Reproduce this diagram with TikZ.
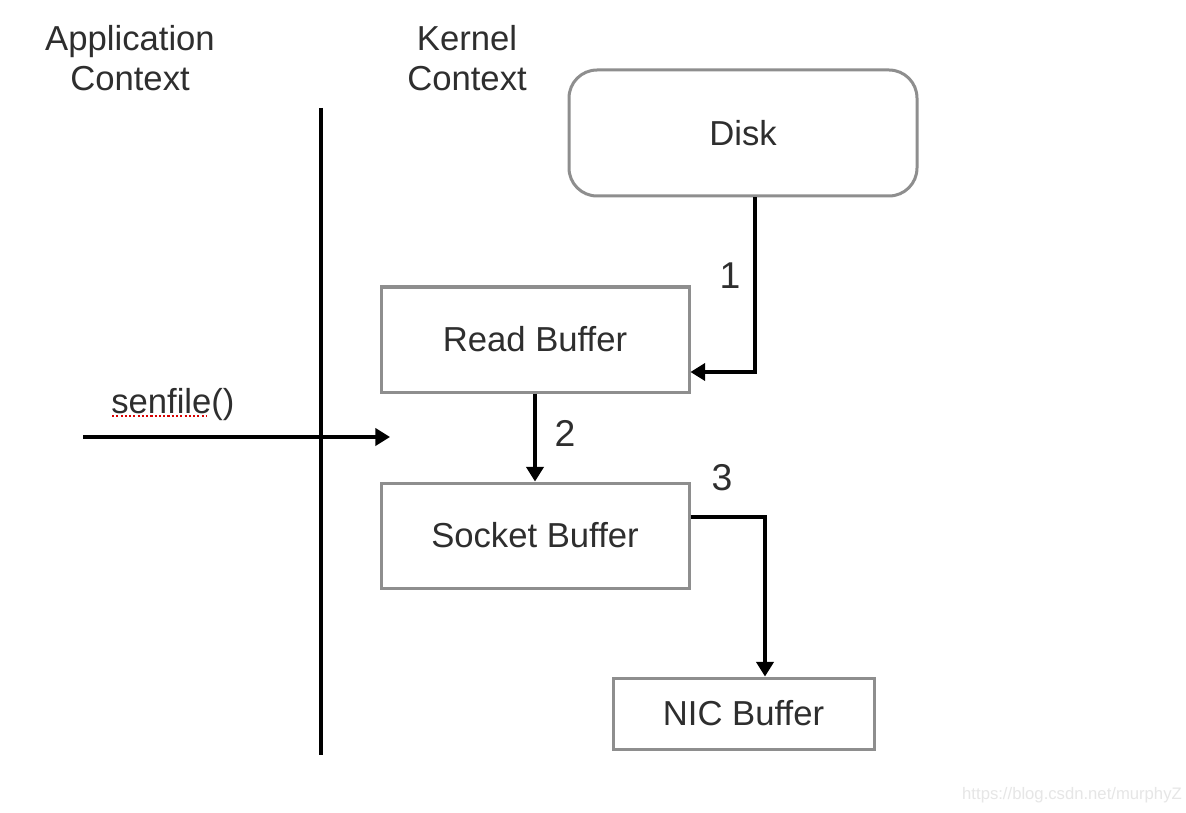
\documentclass[tikz,border=0pt]{standalone}
\usepackage{fontspec}
\setmainfont{Liberation Sans}
\usetikzlibrary{arrows.meta}
\definecolor{txt}{HTML}{2E2E2E}
\definecolor{boxc}{HTML}{8E8E8E}
\definecolor{wm}{HTML}{E6E6E6}
\tikzset{
  lbl/.style={text=txt, font=\fontsize{26}{30}\selectfont, inner sep=0pt},
  num/.style={text=txt, font=\fontsize{28}{32}\selectfont, inner sep=0pt},
  hdr/.style={text=txt, font=\fontsize{26}{30}\selectfont, align=center, inner sep=0pt},
  bufbox/.style={draw=boxc, line width=2.25pt, fill=white, inner sep=0pt, text=txt, font=\fontsize{26}{30}\selectfont},
  arr/.style={draw=black, line width=2.3pt, -{Triangle[length=11pt,width=13pt]}},
}
\begin{document}
\begin{tikzpicture}[x=0.75pt,y=-0.75pt]
\useasboundingbox (0,0) rectangle (1186,813);
\fill[white] (0,0) rectangle (1186,813);
% headers
\node[hdr] (app) at (130,58) {Application\\Context};
\node[hdr] (ker) at (467,58) {Kernel\\Context};
% divider
\coordinate (v0) at (321,108);
\coordinate (v1) at (321,755);
\draw[line width=2.3pt] (v0) -- (v1);
% boxes
\node[bufbox, rounded corners=21pt, minimum width=261pt, minimum height=94.5pt] (disk) at (743,133) {Disk};
\node[bufbox, minimum width=231pt, minimum height=78.75pt] (read) at (535,339.5) {Read Buffer};
\node[bufbox, minimum width=231pt, minimum height=78.75pt] (sock) at (535,535.5) {Socket Buffer};
\node[bufbox, minimum width=195.75pt, minimum height=53.25pt] (nic) at (743.5,713.5) {NIC Buffer};
% arrow 1
\coordinate (a1) at (755,372);
\draw[arr] (disk.south -| a1) -- (a1) -- (read.east |- a1);
\node[num] (n1) at (730,276) {1};
% arrow 2
\draw[arr] (read.south) -- (sock.north);
\node[num] (n2) at (565,433) {2};
% arrow 3
\coordinate (a3) at (765,517);
\draw[arr] (sock.east |- a3) -- (a3) -- (nic.north -| a3);
\node[num] (n3) at (722,478) {3};
% senfile
\coordinate (s0) at (83,437);
\coordinate (s1) at (390,437);
\draw[arr] (s0) -- (s1);
\node[lbl, anchor=base west] (sf) at (111,413) {senfile()};
\coordinate (u0) at (112,416);
\coordinate (u1) at (207,416);
\draw[red!85!black, line width=1.6pt, dash pattern=on 1.6pt off 1.6pt] (u0) -- (u1);
% watermark
\node[text=wm, font=\fontsize{12.5}{14}\selectfont, inner sep=0pt] (wmk) at (1072,795) {https://blog.csdn.net/murphyZ};
\end{tikzpicture}
\end{document}
